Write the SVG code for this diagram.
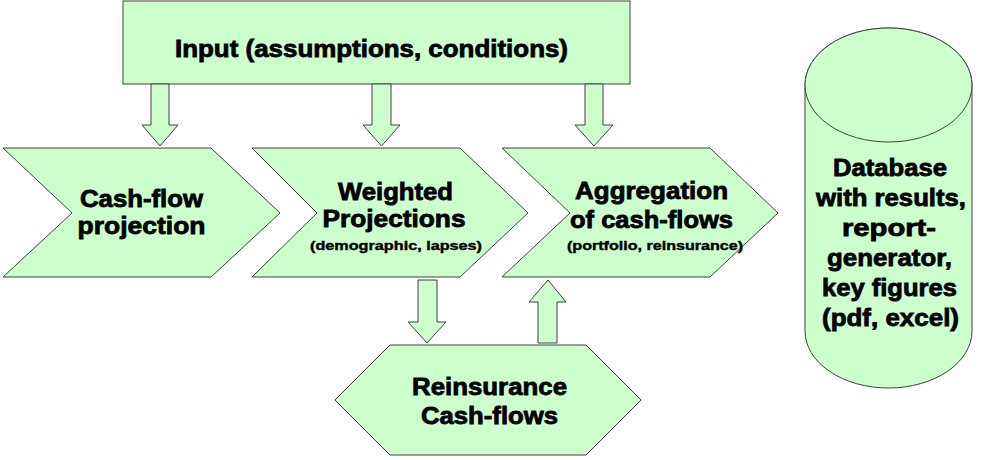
<svg xmlns="http://www.w3.org/2000/svg" width="982" height="460" viewBox="0 0 982 460">
<style>
.s{fill:#CCFFCC;stroke:#404040;stroke-width:1}
.t{font-family:"Liberation Sans",Arial,sans-serif;font-weight:bold;font-size:24px;fill:#000;stroke:#000;stroke-width:0.8;text-anchor:middle}
.sm{font-family:"Liberation Sans",Arial,sans-serif;font-weight:bold;font-size:13px;fill:#000;stroke:#000;stroke-width:0.4;text-anchor:middle}
</style>
<rect width="982" height="460" fill="#fff"/>
<g id="input">
<rect class="s" x="123" y="1" width="507" height="83"/>
<text class="t" x="371.5" y="57" font-size="25" textLength="393" lengthAdjust="spacingAndGlyphs">Input (assumptions, conditions)</text>
</g>
<g id="cashflow-projection">
<polygon class="s" points="3,148 211,148 280,213 211,277 3,277 72,213"/>
<text class="t" x="141.5" y="207" textLength="123" lengthAdjust="spacingAndGlyphs">Cash-flow</text>
<text class="t" x="141.5" y="234" textLength="128" lengthAdjust="spacingAndGlyphs">projection</text>
</g>
<g id="weighted-projections">
<polygon class="s" points="252,148 460,148 528,213 460,277 252,277 317,213"/>
<text class="t" x="395.5" y="200" textLength="115" lengthAdjust="spacingAndGlyphs">Weighted</text>
<text class="t" x="394" y="227" textLength="143" lengthAdjust="spacingAndGlyphs">Projections</text>
<text class="sm" x="396" y="250" textLength="172" lengthAdjust="spacingAndGlyphs">(demographic, lapses)</text>
</g>
<g id="aggregation">
<polygon class="s" points="502,148 710,148 778,213 710,277 502,277 570,213"/>
<text class="t" x="651.5" y="199" textLength="153" lengthAdjust="spacingAndGlyphs">Aggregation</text>
<text class="t" x="651.5" y="228" textLength="163" lengthAdjust="spacingAndGlyphs">of cash-flows</text>
<text class="sm" x="655" y="250" textLength="176" lengthAdjust="spacingAndGlyphs">(portfolio, reinsurance)</text>
</g>
<g id="reinsurance">
<polygon class="s" points="390,345 586,345 641,400 586,455 390,455 335,400"/>
<text class="t" x="489.5" y="395" textLength="155" lengthAdjust="spacingAndGlyphs">Reinsurance</text>
<text class="t" x="489.5" y="424" textLength="137" lengthAdjust="spacingAndGlyphs">Cash-flows</text>
</g>
<g id="database">
<path class="s" d="M805,85 L805,331 A83.5,57 0 0 0 972,331 L972,85 A83.5,57 0 0 0 805,85 Z"/>
<ellipse class="s" cx="888.5" cy="85" rx="83.5" ry="57"/>
<text class="t" x="890" y="176" textLength="114" lengthAdjust="spacingAndGlyphs">Database</text>
<text class="t" x="891" y="206" textLength="150" lengthAdjust="spacingAndGlyphs">with results,</text>
<text class="t" x="889" y="236" textLength="94" lengthAdjust="spacingAndGlyphs">report-</text>
<text class="t" x="889.5" y="266" textLength="125" lengthAdjust="spacingAndGlyphs">generator,</text>
<text class="t" x="889.5" y="296" textLength="135" lengthAdjust="spacingAndGlyphs">key figures</text>
<text class="t" x="890.5" y="326" textLength="137" lengthAdjust="spacingAndGlyphs">(pdf, excel)</text>
</g>
<g id="connectors">
<polygon class="s" points="151,84 169,84 169,125 178,125 160,146 142,125 151,125"/>
<polygon class="s" points="372,84 391,84 391,125 400,125 381.5,146 363,125 372,125"/>
<polygon class="s" points="585,84 603,84 603,125 613,125 594,146 575,125 585,125"/>
<polygon class="s" points="418,280 437,280 437,322 446,322 427,343 408,322 418,322"/>
<polygon class="s" points="538,343 557,343 557,302 566,302 548,280 529,302 538,302"/>
</g>
</svg>
